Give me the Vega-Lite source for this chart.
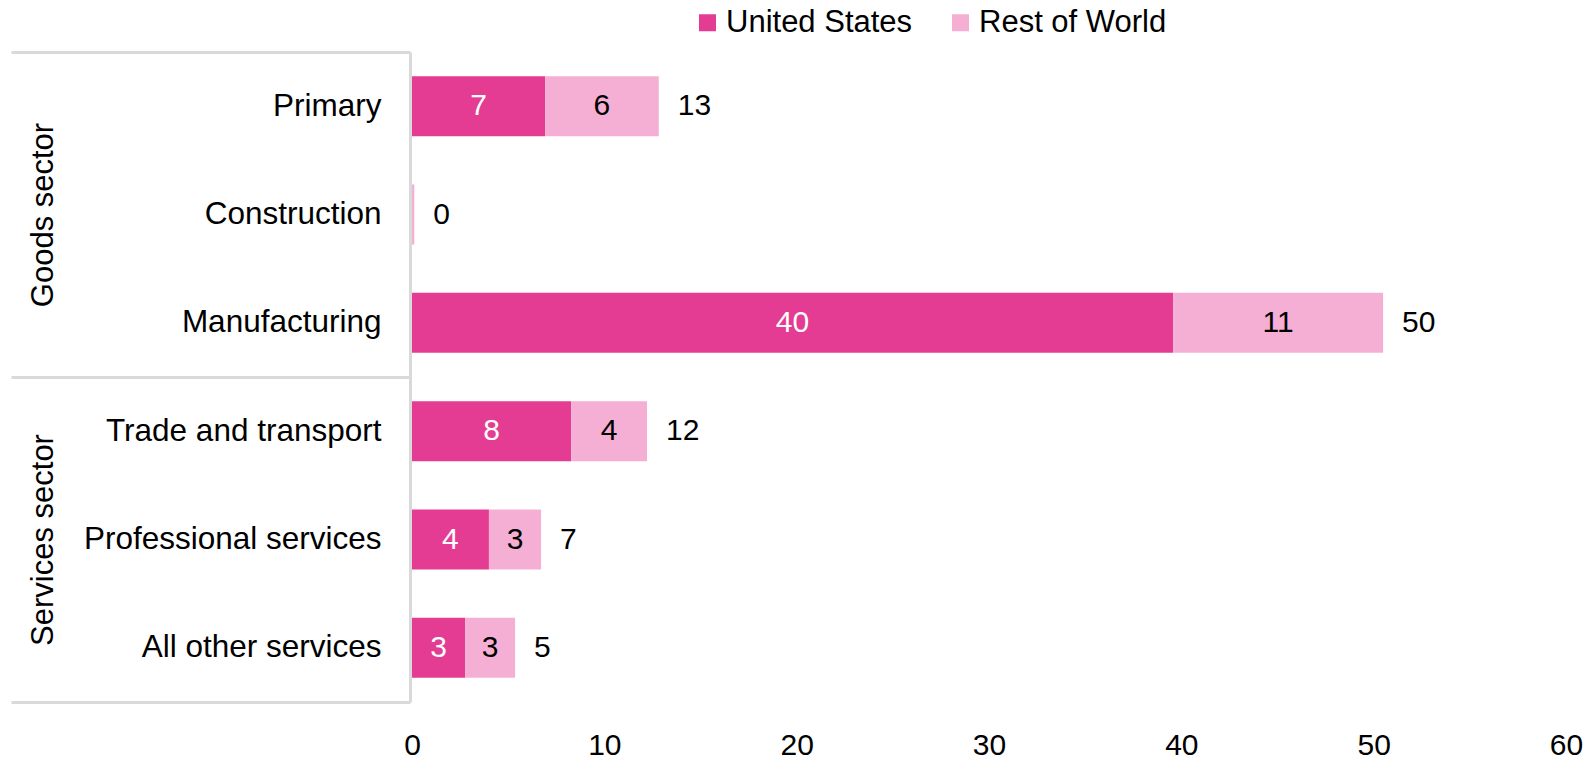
{
  "$schema": "https://vega.github.io/schema/vega-lite/v6.json",
  "width": 1154,
  "height": 650,
  "autosize": "none",
  "padding": {"left": 412, "top": 52, "right": 25, "bottom": 59},
  "background": "white",
  "config": {
    "view": {"stroke": null},
    "font": "Liberation Sans",
    "axis": {"grid": false}
  },
  "data": {
    "values": [
      {"cat": "Primary", "sector": "Goods sector", "series": "United States", "value": 6.92},
      {"cat": "Primary", "sector": "Goods sector", "series": "Rest of World", "value": 5.91},
      {"cat": "Construction", "sector": "Goods sector", "series": "United States", "value": 0.02},
      {"cat": "Construction", "sector": "Goods sector", "series": "Rest of World", "value": 0.1},
      {"cat": "Manufacturing", "sector": "Goods sector", "series": "United States", "value": 39.57},
      {"cat": "Manufacturing", "sector": "Goods sector", "series": "Rest of World", "value": 10.92},
      {"cat": "Trade and transport", "sector": "Services sector", "series": "United States", "value": 8.27},
      {"cat": "Trade and transport", "sector": "Services sector", "series": "Rest of World", "value": 3.95},
      {"cat": "Professional services", "sector": "Services sector", "series": "United States", "value": 4.0},
      {"cat": "Professional services", "sector": "Services sector", "series": "Rest of World", "value": 2.71},
      {"cat": "All other services", "sector": "Services sector", "series": "United States", "value": 2.76},
      {"cat": "All other services", "sector": "Services sector", "series": "Rest of World", "value": 2.6}
    ]
  },
  "resolve": {"scale": {"y": "independent"}},
  "layer": [
    {
      "encoding": {
        "y": {
          "field": "cat",
          "type": "nominal",
          "sort": ["Primary", "Construction", "Manufacturing", "Trade and transport", "Professional services", "All other services"],
          "scale": {"paddingInner": 0, "paddingOuter": 0},
          "axis": {
            "title": null,
            "orient": "left",
            "offset": 2,
            "domainColor": "#d9d9d9",
            "domainWidth": 3,
            "tickBand": "extent",
            "tickSize": 399,
            "tickWidth": 3,
            "tickColor": {
              "condition": {"test": "datum.value === 'Manufacturing' || datum.value === 'All other services' || !!datum.extra", "value": "#d9d9d9"},
              "value": "rgba(0,0,0,0)"
            },
            "labelPadding": -370,
            "labelFontSize": 31.5,
            "labelColor": "#000000",
            "labelAlign": "right",
            "labelBaseline": "middle",
            "labelLimit": 0
          }
        }
      },
      "layer": [
        {
          "mark": {"type": "bar", "height": {"band": 0.554}},
          "encoding": {
            "x": {
              "field": "value",
              "type": "quantitative",
              "stack": "zero",
              "scale": {"domain": [0, 60], "nice": false},
              "axis": {
                "title": null,
                "domain": false,
                "ticks": false,
                "grid": false,
                "values": [0, 10, 20, 30, 40, 50, 60],
                "labelFontSize": 30,
                "labelColor": "#000000",
                "labelPadding": 28,
                "labelFlush": false,
                "labelOverlap": false
              }
            },
            "color": {
              "field": "series",
              "type": "nominal",
              "scale": {"domain": ["United States", "Rest of World"], "range": ["#E33C92", "#F5AFD4"]},
              "legend": {
                "orient": "none",
                "legendX": 280,
                "legendY": -45,
                "direction": "horizontal",
                "title": null,
                "symbolType": "square",
                "symbolSize": 289,
                "symbolStrokeWidth": 0,
                "labelFontSize": 31,
                "labelColor": "#000000",
                "labelOffset": 3,
                "columnPadding": 32,
                "padding": 0,
                "labelLimit": 0
              }
            },
            "order": {"field": "series", "sort": "descending"}
          }
        },
        {
          "transform": [{"filter": "datum.value >= 1"}],
          "mark": {"type": "text", "fontSize": 30, "baseline": "middle", "align": "center"},
          "encoding": {
            "x": {"field": "value", "type": "quantitative", "stack": "zero", "bandPosition": 0.5},
            "detail": {"field": "series"},
            "order": {"field": "series", "sort": "descending"},
            "text": {"field": "value", "type": "quantitative", "format": ".0f"},
            "color": {
              "condition": {"test": "datum.series === 'United States'", "value": "#ffffff"},
              "value": "#000000"
            }
          }
        },
        {
          "mark": {"type": "text", "fontSize": 30, "align": "left", "baseline": "middle", "dx": 19, "color": "#000000"},
          "encoding": {
            "x": {"aggregate": "sum", "field": "value", "type": "quantitative"},
            "text": {"aggregate": "sum", "field": "value", "type": "quantitative", "format": ".0f"}
          }
        }
      ]
    },
    {
      "mark": {"type": "point", "opacity": 0},
      "encoding": {
        "y": {
          "field": "sector",
          "type": "nominal",
          "sort": ["Goods sector", "Services sector"],
          "scale": {"paddingInner": 0, "paddingOuter": 0},
          "axis": {
            "title": null,
            "orient": "left",
            "domain": false,
            "ticks": false,
            "labelAngle": 270,
            "labelAlign": "center",
            "labelBaseline": "middle",
            "labelPadding": 369,
            "labelFontSize": 31,
            "labelColor": "#000000",
            "labelLimit": 0
          }
        }
      }
    }
  ]
}
